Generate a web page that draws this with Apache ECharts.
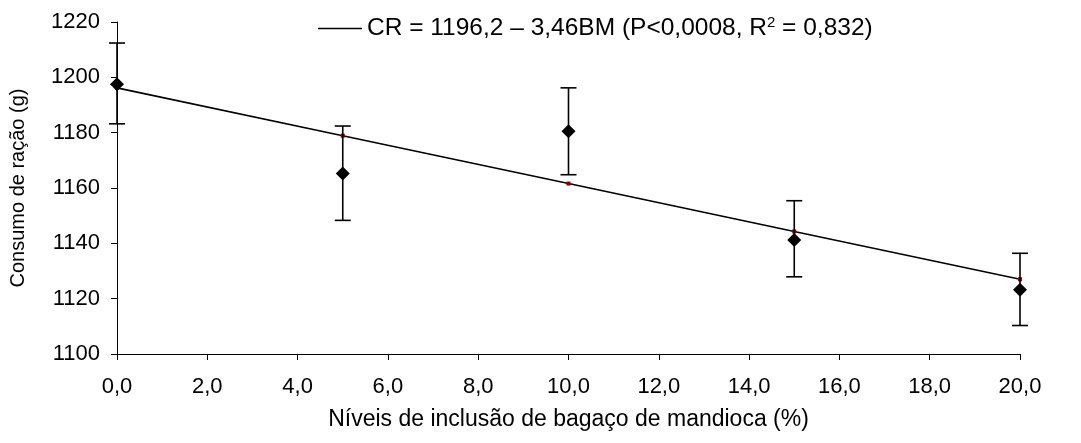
<!DOCTYPE html>
<html>
<head>
<meta charset="utf-8">
<script src="https://cdn.jsdelivr.net/npm/echarts@6/dist/echarts.min.js"></script>
<style>
  html, body { margin: 0; padding: 0; background: #ffffff; }
  #chart { width: 1081px; height: 443px; }
</style>
</head>
<body>
<div id="chart"></div>
<script>
  // niveis de bagaco de mandioca (%)
  var levels = [0, 5, 10, 15, 20];
  // consumo medio de racao (g)
  var intake = [1197.5, 1165.2, 1180.5, 1141.2, 1123.2];
  // barras de erro
  var errLow = [1183.2, 1148.3, 1164.8, 1127.9, 1110.3];
  var errHigh = [1212.4, 1182.4, 1196.2, 1155.4, 1136.4];
  // valores ajustados pela regressao
  var fitted = [1196.2, 1178.9, 1161.6, 1144.3, 1127.0];

  var legendName = 'CR';
  var tickFs = 22;
  var legendFs = 24.5;

  var chart = echarts.init(document.getElementById('chart'));

  var option = {
    animation: false,
    textStyle: { fontFamily: 'Liberation Sans, Arial, sans-serif' },
    legend: {
      left: 313,
      top: 10,
      itemWidth: 44,
      itemHeight: 1.5,
      itemGap: 6,
      data: [{ name: legendName, icon: 'rect', itemStyle: { color: '#000' } }],
      formatter: function () {
        return '{a|CR = 1196,2 \u2013 3,46BM (P<0,0008, R}{s|2}{a| = 0,832)}';
      },
      textStyle: {
        color: '#000',
        fontSize: legendFs,
        rich: {
          a: { fontSize: legendFs, color: '#000', lineHeight: 27 },
          s: { fontSize: 15, color: '#000', lineHeight: 27, verticalAlign: 'top' }
        }
      }
    },
    grid: { left: 117, right: 61, top: 22, bottom: 89, outerBoundsMode: 'none' },
    xAxis: {
      type: 'value',
      min: 0,
      max: 20,
      interval: 2,
      name: 'Níveis de inclusão de bagaço de mandioca (%)',
      nameLocation: 'middle',
      nameGap: 54,
      nameTextStyle: { fontSize: 23, color: '#000' },
      axisLine: { lineStyle: { color: '#000', width: 1 } },
      axisTick: { show: true, length: 6, lineStyle: { color: '#000' } },
      axisLabel: {
        fontSize: tickFs,
        color: '#000',
        margin: 22,
        formatter: function (v) { return v.toFixed(1).replace('.', ','); }
      },
      splitLine: { show: false }
    },
    yAxis: {
      type: 'value',
      min: 1100,
      max: 1220,
      interval: 20,
      name: 'Consumo de ração (g)',
      nameLocation: 'middle',
      nameGap: 89,
      nameTextStyle: { fontSize: 20, color: '#000' },
      axisLine: { show: true, lineStyle: { color: '#000', width: 1 } },
      axisTick: { show: true, length: 6, lineStyle: { color: '#000' } },
      axisLabel: {
        fontSize: tickFs,
        color: '#000',
        margin: 17,
        formatter: function (v) { return String(v); }
      },
      splitLine: { show: false }
    },
    series: [
      {
        name: legendName,
        type: 'line',
        data: levels.map(function (x, i) { return [x, fitted[i]]; }),
        symbol: 'rect',
        symbolSize: 4,
        showSymbol: true,
        itemStyle: { color: '#8b0000', opacity: 1 },
        lineStyle: { color: '#000', width: 1.6 },
        clip: false,
        z: 3
      },
      {
        name: 'erro',
        type: 'custom',
        data: levels.map(function (x, i) { return [x, errLow[i], errHigh[i]]; }),
        renderItem: function (params, api) {
          var lo = api.coord([api.value(0), api.value(1)]);
          var hi = api.coord([api.value(0), api.value(2)]);
          var w = 8;
          var st = { stroke: '#000', lineWidth: 1.6 };
          return {
            type: 'group',
            children: [
              { type: 'line', shape: { x1: lo[0], y1: lo[1], x2: hi[0], y2: hi[1] }, style: st },
              { type: 'line', shape: { x1: lo[0] - w, y1: lo[1], x2: lo[0] + w, y2: lo[1] }, style: st },
              { type: 'line', shape: { x1: hi[0] - w, y1: hi[1], x2: hi[0] + w, y2: hi[1] }, style: st }
            ]
          };
        },
        clip: false,
        z: 4
      },
      {
        name: 'media',
        type: 'scatter',
        data: levels.map(function (x, i) { return [x, intake[i]]; }),
        symbol: 'diamond',
        symbolSize: 14,
        itemStyle: { color: '#000', opacity: 1 },
        clip: false,
        z: 5
      }
    ]
  };

  chart.setOption(option);
</script>
</body>
</html>
